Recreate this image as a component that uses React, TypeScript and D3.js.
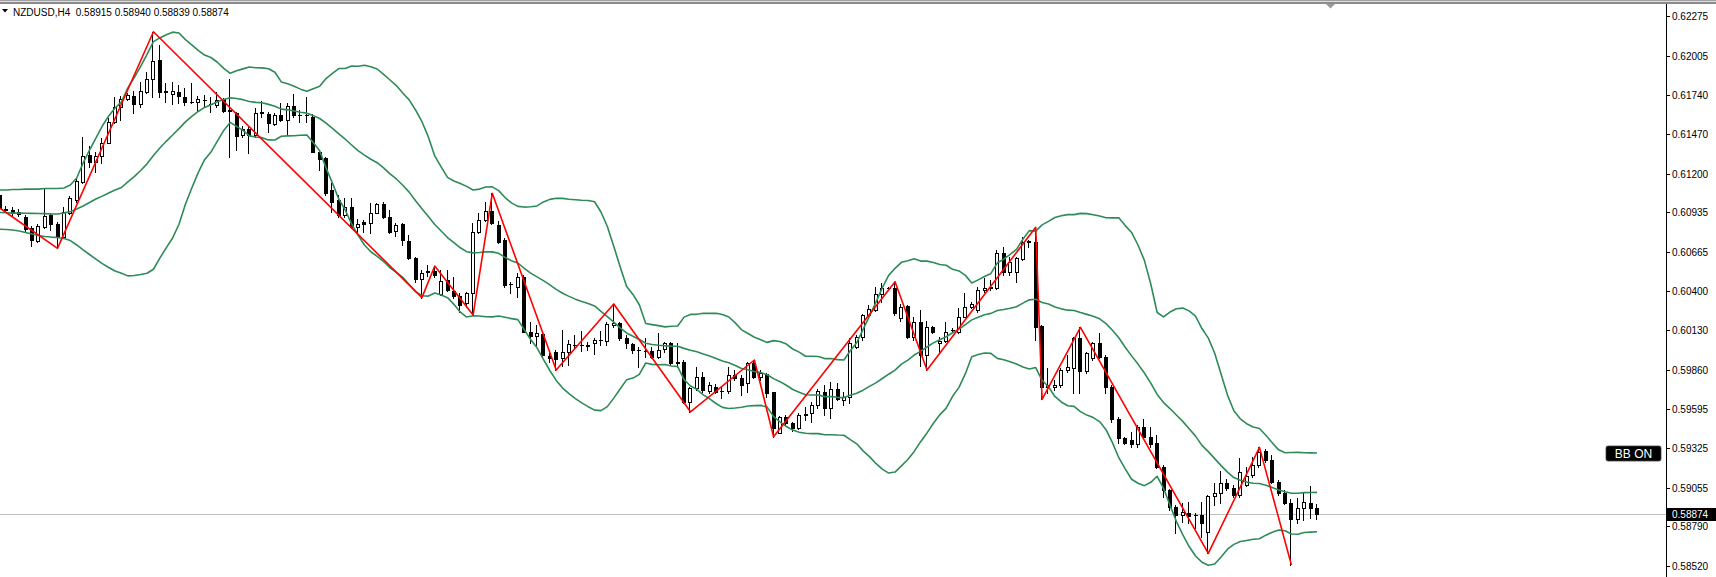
import React from "react";
import * as d3 from "d3";

// ---- Data (NZDUSD, H4) ----
const opens = [
  0.61054, 0.60962, 0.60952, 0.60925, 0.60906, 0.60827, 0.60742, 0.60838, 0.60918, 0.60856,
  0.60770, 0.60933, 0.61020, 0.61145, 0.61328, 0.61282, 0.61321, 0.61412, 0.61555, 0.61654,
  0.61708, 0.61731, 0.61674, 0.61760, 0.61845, 0.61977, 0.61765, 0.61743, 0.61760, 0.61726,
  0.61690, 0.61688, 0.61704, 0.61676, 0.61670, 0.61708, 0.61635, 0.61617, 0.61464, 0.61503,
  0.61464, 0.61615, 0.61606, 0.61540, 0.61601, 0.61567, 0.61663, 0.61601, 0.61603, 0.61590,
  0.61350, 0.61309, 0.61089, 0.61020, 0.60918, 0.60970, 0.60838, 0.60868, 0.60861, 0.60933,
  0.60993, 0.60906, 0.60808, 0.60856, 0.60742, 0.60622, 0.60478, 0.60525, 0.60535, 0.60378,
  0.60474, 0.60400, 0.60364, 0.60314, 0.60383, 0.60804, 0.60884, 0.60945, 0.60849, 0.60747,
  0.60446, 0.60428, 0.60496, 0.60120, 0.60091, 0.60102, 0.59956, 0.59979, 0.59938, 0.59979,
  0.60032, 0.60027, 0.60025, 0.60041, 0.60062, 0.60057, 0.60166, 0.60182, 0.60075, 0.60034,
  0.59998, 0.59988, 0.59988, 0.59949, 0.60002, 0.60041, 0.59909, 0.59916, 0.59642, 0.59733,
  0.59813, 0.59717, 0.59744, 0.59712, 0.59715, 0.59824, 0.59802, 0.59772, 0.59904, 0.59813,
  0.59829, 0.59710, 0.59430, 0.59535, 0.59494, 0.59460, 0.59554, 0.59563, 0.59619, 0.59708,
  0.59597, 0.59727, 0.59654, 0.59672, 0.60014, 0.60082, 0.60234, 0.60269, 0.60378, 0.60417,
  0.60417, 0.60212, 0.60296, 0.60082, 0.60189, 0.59961, 0.60150, 0.60045, 0.60059, 0.60130,
  0.60120, 0.60223, 0.60291, 0.60269, 0.60405, 0.60428, 0.60417, 0.60656, 0.60531, 0.60531,
  0.60615, 0.60735, 0.60735, 0.60159, 0.59744, 0.59744, 0.59756, 0.59859, 0.59870, 0.60075,
  0.59854, 0.59938, 0.60045, 0.59949, 0.59744, 0.59521, 0.59392, 0.59380, 0.59353, 0.59471,
  0.59403, 0.59357, 0.59198, 0.59039, 0.58925, 0.58868, 0.58883, 0.58866, 0.58868, 0.58753,
  0.58997, 0.59020, 0.59088, 0.59050, 0.59004, 0.59073, 0.59141, 0.59209, 0.59307, 0.59244,
  0.59095, 0.59016, 0.58952, 0.58838, 0.58913, 0.58947, 0.58915,
];

const highs = [
  0.61075, 0.60979, 0.60972, 0.60959, 0.60918, 0.60843, 0.60856, 0.61100, 0.60929, 0.60872,
  0.60970, 0.61048, 0.61169, 0.61449, 0.61389, 0.61350, 0.61442, 0.61579, 0.61722, 0.61731,
  0.61749, 0.61767, 0.61829, 0.61897, 0.62170, 0.62079, 0.61818, 0.61829, 0.61806, 0.61784,
  0.61818, 0.61731, 0.61738, 0.61722, 0.61760, 0.61715, 0.61845, 0.61624, 0.61526, 0.61521,
  0.61647, 0.61699, 0.61624, 0.61613, 0.61685, 0.61681, 0.61745, 0.61635, 0.61726, 0.61608,
  0.61357, 0.61316, 0.61134, 0.61054, 0.61032, 0.61032, 0.60888, 0.60884, 0.60998, 0.61002,
  0.61009, 0.60952, 0.60861, 0.60865, 0.60781, 0.60629, 0.60542, 0.60576, 0.60569, 0.60540,
  0.60542, 0.60496, 0.60383, 0.60394, 0.60861, 0.60929, 0.61009, 0.61066, 0.60877, 0.60758,
  0.60462, 0.60519, 0.60508, 0.60189, 0.60166, 0.60102, 0.59972, 0.59995, 0.60132, 0.60064,
  0.60098, 0.60125, 0.60052, 0.60075, 0.60125, 0.60189, 0.60310, 0.60189, 0.60098, 0.60041,
  0.60018, 0.60075, 0.60018, 0.60109, 0.60052, 0.60052, 0.60041, 0.59927, 0.59744, 0.59881,
  0.59847, 0.59779, 0.59763, 0.59749, 0.59881, 0.59859, 0.59824, 0.59915, 0.59927, 0.59859,
  0.59836, 0.59710, 0.59544, 0.59551, 0.59505, 0.59567, 0.59608, 0.59642, 0.59727, 0.59756,
  0.59779, 0.59768, 0.59710, 0.60075, 0.60098, 0.60241, 0.60303, 0.60428, 0.60451, 0.60428,
  0.60462, 0.60310, 0.60303, 0.60219, 0.60269, 0.60195, 0.60159, 0.60086, 0.60189, 0.60143,
  0.60280, 0.60387, 0.60325, 0.60428, 0.60485, 0.60474, 0.60679, 0.60701, 0.60633, 0.60633,
  0.60769, 0.60747, 0.60834, 0.60166, 0.59870, 0.59790, 0.59870, 0.59961, 0.60082, 0.60150,
  0.59984, 0.60052, 0.60109, 0.59961, 0.59756, 0.59535, 0.59403, 0.59437, 0.59483, 0.59521,
  0.59471, 0.59414, 0.59209, 0.59043, 0.58936, 0.58947, 0.58958, 0.58883, 0.58958, 0.59004,
  0.59088, 0.59170, 0.59111, 0.59073, 0.59255, 0.59193, 0.59266, 0.59330, 0.59316, 0.59277,
  0.59107, 0.59039, 0.58975, 0.58982, 0.59027, 0.59066, 0.58940,
];

const lows = [
  0.60952, 0.60938, 0.60918, 0.60911, 0.60810, 0.60706, 0.60735, 0.60827, 0.60815, 0.60690,
  0.60759, 0.60925, 0.61009, 0.61134, 0.61248, 0.61214, 0.61271, 0.61408, 0.61544, 0.61567,
  0.61704, 0.61613, 0.61658, 0.61753, 0.61726, 0.61722, 0.61692, 0.61674, 0.61681, 0.61669,
  0.61681, 0.61630, 0.61656, 0.61624, 0.61654, 0.61624, 0.61316, 0.61362, 0.61453, 0.61339,
  0.61453, 0.61590, 0.61487, 0.61533, 0.61562, 0.61464, 0.61590, 0.61555, 0.61555, 0.61350,
  0.61225, 0.61054, 0.60940, 0.60906, 0.60906, 0.60827, 0.60804, 0.60804, 0.60797, 0.60929,
  0.60895, 0.60797, 0.60774, 0.60713, 0.60615, 0.60462, 0.60353, 0.60501, 0.60496, 0.60371,
  0.60400, 0.60348, 0.60257, 0.60291, 0.60234, 0.60793, 0.60879, 0.60856, 0.60724, 0.60428,
  0.60383, 0.60359, 0.60116, 0.60041, 0.60029, 0.59949, 0.59915, 0.59859, 0.59888, 0.59893,
  0.60007, 0.59989, 0.59995, 0.59966, 0.60029, 0.60029, 0.60154, 0.60064, 0.60007, 0.59972,
  0.59881, 0.59949, 0.59938, 0.59938, 0.59984, 0.59893, 0.59881, 0.59631, 0.59573, 0.59722,
  0.59710, 0.59699, 0.59703, 0.59665, 0.59699, 0.59790, 0.59688, 0.59710, 0.59801, 0.59790,
  0.59676, 0.59403, 0.59426, 0.59483, 0.59443, 0.59453, 0.59517, 0.59505, 0.59597, 0.59551,
  0.59528, 0.59654, 0.59619, 0.59631, 0.60007, 0.60064, 0.60219, 0.60264, 0.60325, 0.60405,
  0.60234, 0.60195, 0.60075, 0.60064, 0.59886, 0.59859, 0.60109, 0.59972, 0.60052, 0.60120,
  0.60114, 0.60219, 0.60280, 0.60257, 0.60394, 0.60405, 0.60410, 0.60508, 0.60508, 0.60462,
  0.60610, 0.60701, 0.60064, 0.59658, 0.59699, 0.59722, 0.59744, 0.59847, 0.59699, 0.59699,
  0.59836, 0.59927, 0.59938, 0.59699, 0.59505, 0.59357, 0.59353, 0.59334, 0.59334, 0.59392,
  0.59334, 0.59186, 0.58993, 0.58902, 0.58742, 0.58822, 0.58811, 0.58777, 0.58719, 0.58606,
  0.58936, 0.58947, 0.59039, 0.58993, 0.58993, 0.59066, 0.59129, 0.59198, 0.59232, 0.59084,
  0.59004, 0.58943, 0.58526, 0.58815, 0.58834, 0.58845, 0.58839,
];

const closes = [
  0.60966, 0.60955, 0.60930, 0.60940, 0.60820, 0.60747, 0.60843, 0.60911, 0.60856, 0.60770,
  0.60940, 0.61032, 0.61150, 0.61321, 0.61282, 0.61321, 0.61412, 0.61555, 0.61654, 0.61710,
  0.61738, 0.61676, 0.61765, 0.61845, 0.61972, 0.61760, 0.61758, 0.61767, 0.61731, 0.61690,
  0.61692, 0.61708, 0.61706, 0.61679, 0.61704, 0.61630, 0.61630, 0.61458, 0.61503, 0.61464,
  0.61617, 0.61619, 0.61544, 0.61601, 0.61567, 0.61663, 0.61601, 0.61603, 0.61601, 0.61350,
  0.61298, 0.61066, 0.61009, 0.60918, 0.60970, 0.60838, 0.60856, 0.60854, 0.60933, 0.60993,
  0.60906, 0.60804, 0.60849, 0.60747, 0.60622, 0.60478, 0.60523, 0.60536, 0.60508, 0.60467,
  0.60405, 0.60364, 0.60303, 0.60387, 0.60804, 0.60884, 0.60945, 0.60861, 0.60735, 0.60439,
  0.60444, 0.60496, 0.60120, 0.60093, 0.60109, 0.59961, 0.59938, 0.59934, 0.59979, 0.60034,
  0.60029, 0.60032, 0.60029, 0.60064, 0.60066, 0.60171, 0.60178, 0.60075, 0.60041, 0.59995,
  0.59992, 0.59991, 0.59949, 0.59995, 0.60041, 0.59909, 0.59916, 0.59642, 0.59733, 0.59813,
  0.59722, 0.59756, 0.59710, 0.59715, 0.59824, 0.59802, 0.59756, 0.59904, 0.59813, 0.59836,
  0.59699, 0.59460, 0.59535, 0.59498, 0.59460, 0.59551, 0.59558, 0.59619, 0.59717, 0.59597,
  0.59727, 0.59658, 0.59672, 0.60041, 0.60082, 0.60234, 0.60273, 0.60378, 0.60421, 0.60420,
  0.60246, 0.60291, 0.60082, 0.60189, 0.59961, 0.60150, 0.60120, 0.60059, 0.60120, 0.60134,
  0.60223, 0.60291, 0.60310, 0.60405, 0.60421, 0.60417, 0.60656, 0.60531, 0.60599, 0.60622,
  0.60735, 0.60738, 0.60154, 0.59744, 0.59756, 0.59756, 0.59859, 0.59881, 0.60075, 0.59854,
  0.59972, 0.60045, 0.59945, 0.59744, 0.59521, 0.59392, 0.59362, 0.59353, 0.59471, 0.59403,
  0.59353, 0.59198, 0.59039, 0.58925, 0.58868, 0.58890, 0.58861, 0.58868, 0.58811, 0.58997,
  0.59020, 0.59088, 0.59050, 0.59004, 0.59163, 0.59134, 0.59209, 0.59300, 0.59244, 0.59095,
  0.59016, 0.58952, 0.58838, 0.58913, 0.58957, 0.58913, 0.58874,
];

// Price axis labels
const priceTicks = [
  "0.62275", "0.62005", "0.61740", "0.61470", "0.61200", "0.60935", "0.60665", "0.60400",
  "0.60130", "0.59860", "0.59595", "0.59325", "0.59055", "0.58790", "0.58520",
];

// ZigZag pivots (bar index, price)
const zigzagIndex = [0, 9, 24, 66, 68, 74, 77, 87, 96, 108, 118, 121, 140, 145, 162, 163, 169, 189, 197, 202];
const zigzagPrice = [
  0.60964, 0.6069, 0.6217, 0.60353, 0.60569, 0.60234, 0.61066, 0.59859, 0.6031, 0.59573,
  0.59927, 0.59403, 0.60462, 0.59859, 0.60834, 0.59658, 0.6015, 0.58606, 0.5933, 0.58526,
];

// Bollinger(20,2): the window for the first 19 visible bars lies off-screen,
// so those band values are read from the picture.
const bbWarmupUpper = [
  0.61089, 0.61089, 0.61092, 0.61092, 0.61095, 0.61095, 0.61095, 0.61099, 0.61099, 0.61099,
  0.61102, 0.61123, 0.61171, 0.61273, 0.61362, 0.61444, 0.61526, 0.61594, 0.61649,
];
const bbWarmupMiddle = [
  0.60935, 0.60933, 0.60931, 0.60931, 0.6093, 0.60929, 0.60928, 0.60927, 0.60925, 0.60925,
  0.60931, 0.60941, 0.60959, 0.60979, 0.61003, 0.61027, 0.61047, 0.61068, 0.61089,
];
const bbWarmupLower = [
  0.6082, 0.60819, 0.60815, 0.60808, 0.60798, 0.60788, 0.60778, 0.60771, 0.60767, 0.60764,
  0.60757, 0.60743, 0.60713, 0.60679, 0.60648, 0.60617, 0.60586, 0.60559, 0.60535,
];
const BB_PERIOD = 20;
const BB_DEV = 2;

const SYMBOL = "NZDUSD,H4";

type Bar = { i: number; o: number; h: number; l: number; c: number };
type Band = { i: number; u: number; m: number; l: number };

const WIDTH = 1716;
const HEIGHT = 577;
const AXIS_X = 1666;
const FONT = "'Liberation Sans', Arial, sans-serif";

export default function App() {
  const bars: Bar[] = closes.map((c, i) => ({ i, o: opens[i], h: highs[i], l: lows[i], c }));
  const n = bars.length;

  const x = d3.scaleLinear().domain([0, n - 1]).range([0, 1317]);
  const y = d3.scaleLinear().domain([0.5852, 0.62275]).range([565.9, 16.4]);

  const bands: Band[] = closes.map((_, i) => {
    if (i < BB_PERIOD - 1) {
      return { i, u: bbWarmupUpper[i], m: bbWarmupMiddle[i], l: bbWarmupLower[i] };
    }
    const win = closes.slice(i - BB_PERIOD + 1, i + 1);
    const m = d3.mean(win) as number;
    const sd = Math.sqrt(d3.mean(win, (v) => (v - m) * (v - m)) as number);
    return { i, u: m + BB_DEV * sd, m, l: m - BB_DEV * sd };
  });

  const bandPath = (acc: (b: Band) => number) =>
    d3
      .line<Band>()
      .x((b) => x(b.i))
      .y((b) => y(acc(b)))(bands) as string;

  const zigzagPath = d3
    .line<number>()
    .x((_, k) => x(zigzagIndex[k]))
    .y((p) => y(p))(zigzagPrice) as string;

  const last = bars[n - 1];
  const lastY = y(last.c);
  const header = `${SYMBOL}  ${last.o.toFixed(5)} ${last.h.toFixed(5)} ${last.l.toFixed(5)} ${last.c.toFixed(5)}`;

  return (
    <svg
      width={WIDTH}
      height={HEIGHT}
      viewBox={`0 0 ${WIDTH} ${HEIGHT}`}
      style={{ position: "absolute", left: 0, top: 0, display: "block", background: "#fff" }}
    >
      <rect x={0} y={0} width={WIDTH} height={HEIGHT} fill="#fff" />

      {/* bid line */}
      <line x1={0} x2={AXIS_X} y1={Math.round(lastY) + 0.5} y2={Math.round(lastY) + 0.5} stroke="#c0c0c0" strokeWidth={1} />

      {/* candles */}
      <g>
        {bars.map((b) => {
          const cx = Math.round(x(b.i));
          const yh = Math.round(y(b.h));
          const yl = Math.round(y(b.l));
          const yt = Math.round(y(Math.max(b.o, b.c)));
          const yb = Math.round(y(Math.min(b.o, b.c)));
          const bull = b.c > b.o;
          const bodyH = yb - yt;
          return (
            <g key={b.i}>
              <rect x={cx - 1} y={yh} width={1} height={Math.max(1, yl - yh + 1)} fill="#000" />
              {bodyH < 1 ? (
                <rect x={cx - 2} y={yt} width={4} height={1} fill="#000" />
              ) : bull ? (
                <rect x={cx - 1.5} y={yt + 0.5} width={3} height={bodyH} fill="#fff" stroke="#000" strokeWidth={1} />
              ) : (
                <rect x={cx - 2} y={yt} width={4} height={bodyH + 1} fill="#000" />
              )}
            </g>
          );
        })}
      </g>

      {/* Bollinger bands */}
      <g fill="none" stroke="#2E8B57" strokeWidth={1.6} strokeLinejoin="round">
        <path d={bandPath((b) => b.u)} />
        <path d={bandPath((b) => b.m)} />
        <path d={bandPath((b) => b.l)} />
      </g>

      {/* ZigZag */}
      <path d={zigzagPath} fill="none" stroke="#FF0000" strokeWidth={1.6} strokeLinejoin="round" />

      {/* top frame */}
      <rect x={0} y={0} width={WIDTH} height={1} fill="#a0a0a0" />
      <rect x={0} y={1} width={WIDTH} height={1} fill="#dcdcdc" />
      <rect x={0} y={2} width={WIDTH} height={2} fill="#8c8c8c" />
      <path d="M1326,4 L1335,4 L1330.5,8.5 Z" fill="#9a9a9a" />

      {/* header */}
      <path d="M2,9 L8,9 L5,12.5 Z" fill="#000" />
      <text x={13} y={15.5} fontSize={10} fontFamily={FONT} fill="#000" style={{ whiteSpace: "pre" }}>
        {header}
      </text>

      {/* price axis */}
      <line x1={AXIS_X + 0.5} x2={AXIS_X + 0.5} y1={4} y2={HEIGHT} stroke="#000" strokeWidth={1} />
      {priceTicks.map((t) => {
        const ty = Math.round(y(+t)) + 0.5;
        return (
          <g key={t}>
            <line x1={AXIS_X + 1} x2={AXIS_X + 4} y1={ty} y2={ty} stroke="#000" strokeWidth={1} />
            <text x={AXIS_X + 6} y={ty + 3.5} fontSize={10} fontFamily={FONT} fill="#000">
              {t}
            </text>
          </g>
        );
      })}

      {/* current price label */}
      <rect x={AXIS_X + 1} y={Math.round(lastY) - 6} width={WIDTH - AXIS_X - 1} height={13} fill="#000" />
      <text x={AXIS_X + 6} y={Math.round(lastY) + 4} fontSize={10} fontFamily={FONT} fill="#fff">
        {last.c.toFixed(5)}
      </text>

      {/* BB ON label */}
      <rect x={1606} y={446} width={55} height={15} rx={2} fill="#000" stroke="#444" strokeWidth={0.8} />
      <text x={1633.5} y={457.8} fontSize={12} fontFamily={FONT} fill="#fff" textAnchor="middle">
        BB ON
      </text>
    </svg>
  );
}
